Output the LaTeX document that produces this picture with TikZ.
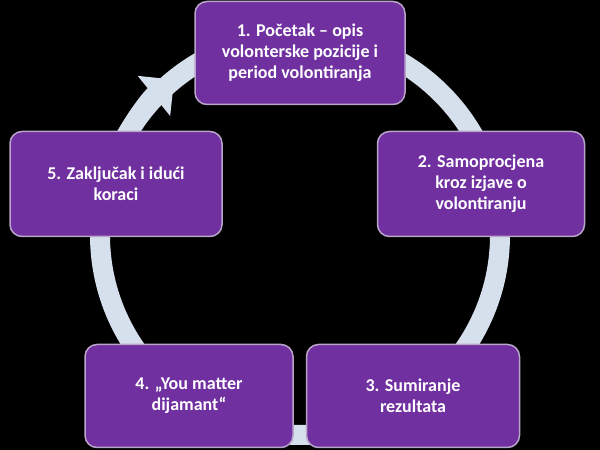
\documentclass[tikz,border=0pt]{standalone}
\usepackage{fontspec}
\setmainfont{Carlito}
\usetikzlibrary{arrows.meta}
\definecolor{ring}{HTML}{D6DFEC}
\definecolor{purp}{HTML}{7030A0}
\definecolor{bord}{HTML}{B9A5C9}
\tikzset{box/.style={draw=bord,line width=1.5pt,fill=purp,rounded corners=12pt,text=white,font=\fontsize{18}{21}\selectfont\bfseries,align=center,inner sep=0pt}}
\begin{document}
\begin{tikzpicture}[x=1pt,y=1pt]
\fill[black] (0,0) rectangle (600,450);
\useasboundingbox (0,0) rectangle (600,450);
\coordinate (c) at (300,215);
\draw[ring,line width=20pt] (c) circle (200);
\draw[ring,line width=20pt,-{Triangle[width=50pt,length=26pt]}] (c) ++(155:200) arc (155:129:200);
\node[box,minimum width=210pt,minimum height=103pt] (b1) at (300,397) {1. Početak – opis\\volonterske pozicije i\\period volontiranja};
\node[box,minimum width=207pt,minimum height=105pt] (b2) at (481,266) {2. Samoprocjena\\kroz izjave o\\volontiranju};
\node[box,minimum width=213pt,minimum height=103pt] (b3) at (413,54) {3. Sumiranje\\rezultata};
\node[box,minimum width=208pt,minimum height=103pt] (b4) at (189,54) {4. „You matter\\dijamant“};
\node[box,minimum width=212pt,minimum height=105pt] (b5) at (116,266) {5. Zaključak i idući\\koraci};
\end{tikzpicture}
\end{document}
